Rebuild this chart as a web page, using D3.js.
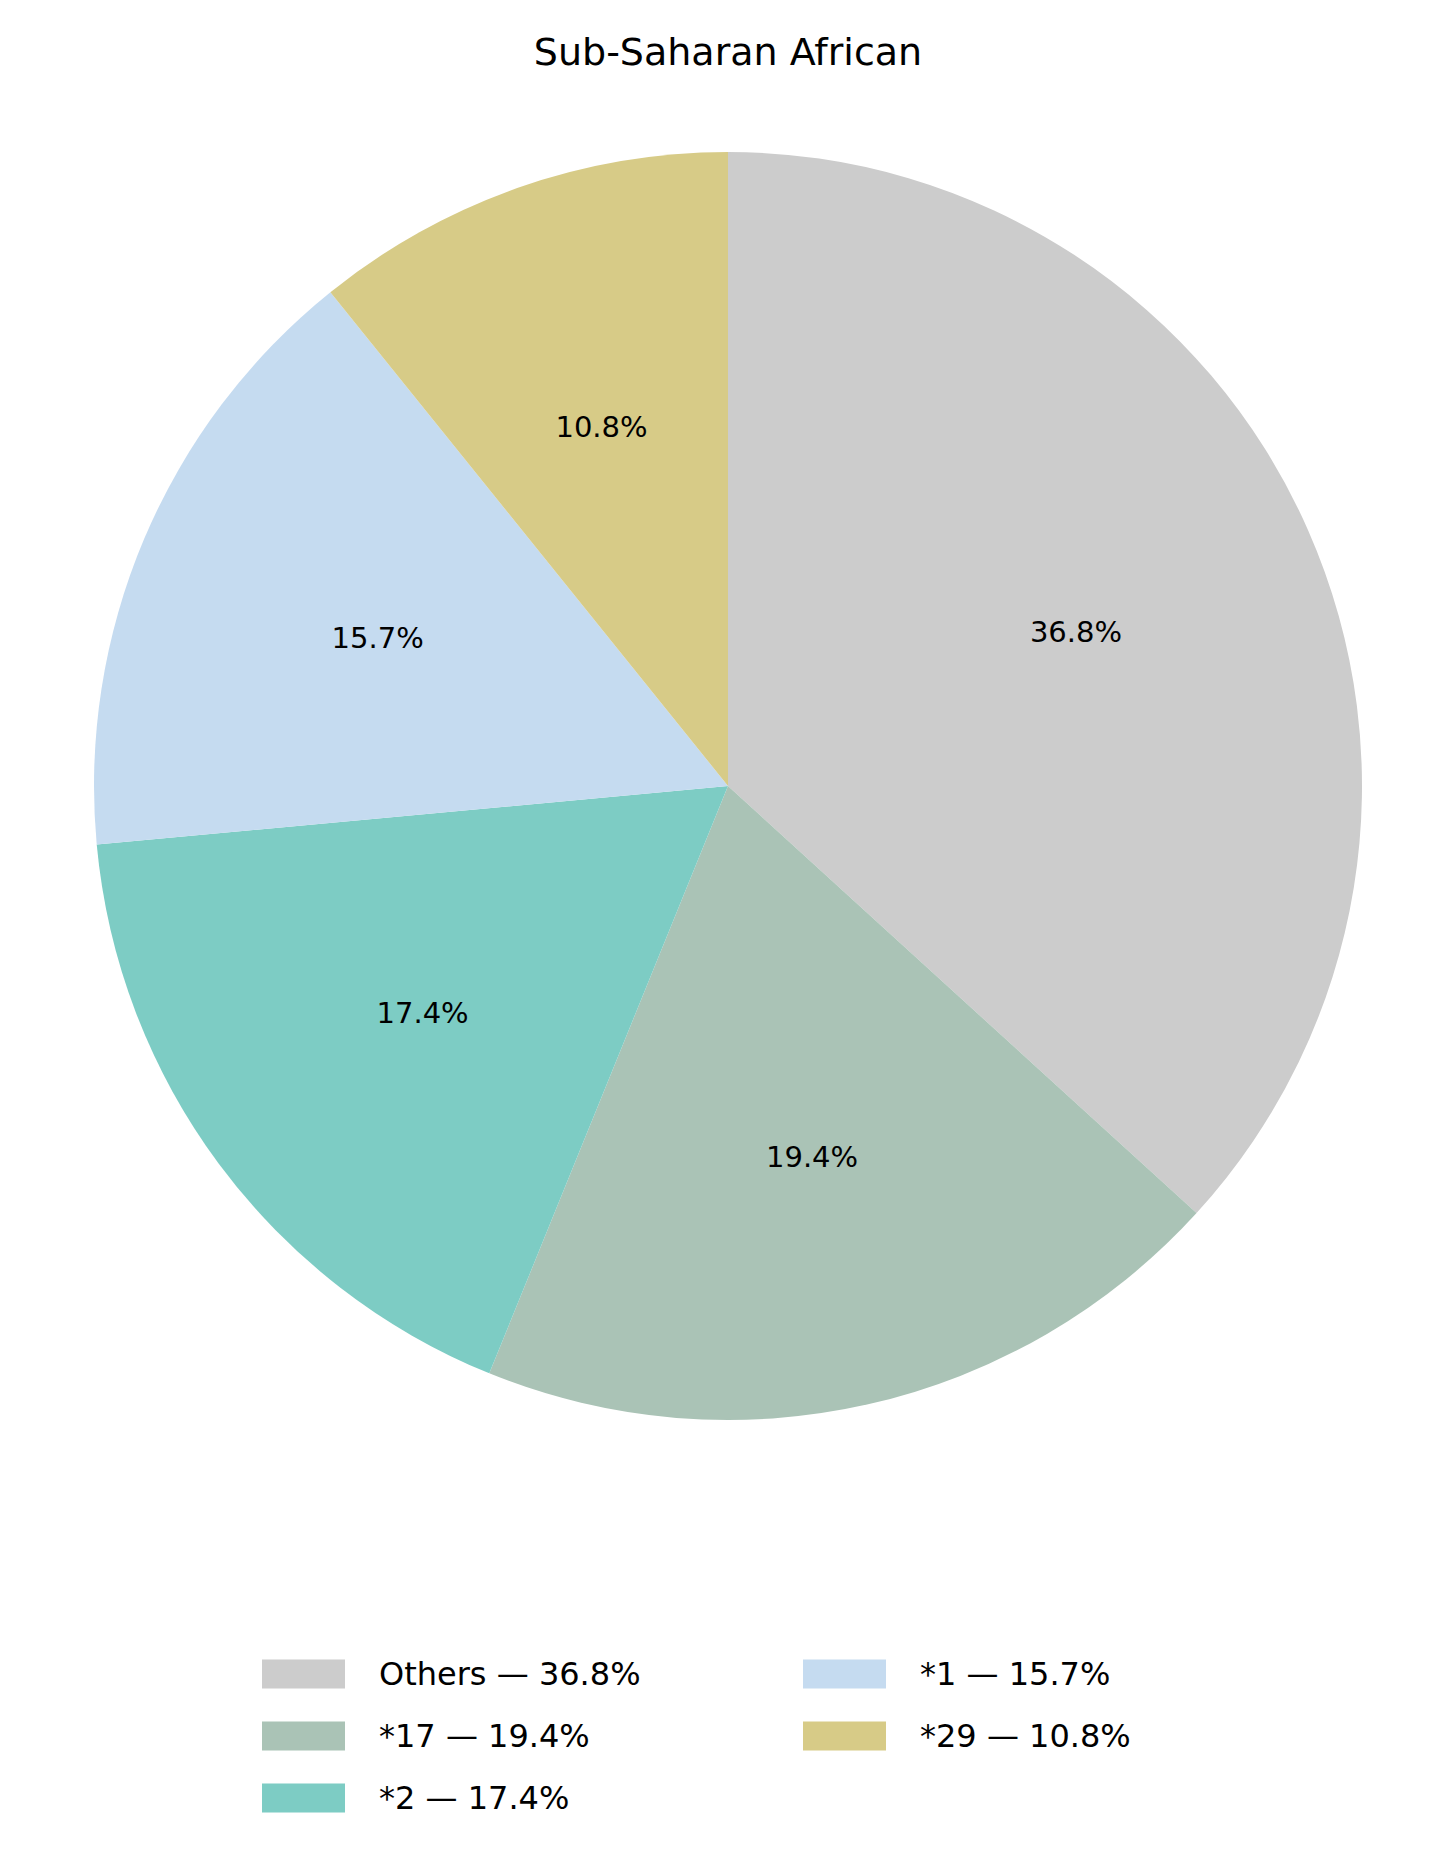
<!DOCTYPE html>
<html><head><meta charset="utf-8">
<script src="https://cdn.jsdelivr.net/npm/d3@7"></script>
<style>body{margin:0;background:#fff}text{font-family:"DejaVu Sans",sans-serif}</style>
</head><body><svg id="chart"></svg>
<script>
const categories = ["Others", "*17", "*2", "*1", "*29"]
const values = [36.8, 19.4, 17.4, 15.7, 10.8]
const colors = ["#cccccc", "#aac3b6", "#7dccc4", "#c5dbf0", "#d7cb87"]

const W = 1455, H = 1869
const cx = 728, cy = 786, R = 634

const svg = d3.select("#chart").attr("width", W).attr("height", H)

svg.append("text")
    .attr("x", cx).attr("y", 65)
    .attr("text-anchor", "middle")
    .style("font-size", "38px")
    .text("Sub-Saharan African")

const data = categories.map((c, i) => ({ name: c, value: values[i], color: colors[i] }))
const pie = d3.pie().sort(null).value(d => d.value)
const arc = d3.arc().innerRadius(0).outerRadius(R)
const labelArc = d3.arc().innerRadius(R * 0.6).outerRadius(R * 0.6)

const g = svg.append("g").attr("transform", `translate(${cx},${cy})`)
const arcs = pie(data)

g.selectAll("path").data(arcs).enter().append("path")
    .attr("d", arc)
    .attr("fill", d => d.data.color)

g.selectAll("text.pct").data(arcs).enter().append("text")
    .attr("class", "pct")
    .attr("transform", d => `translate(${labelArc.centroid(d)})`)
    .attr("text-anchor", "middle")
    .attr("dominant-baseline", "central")
    .style("font-size", "29px")
    .text(d => d.data.value.toFixed(1) + "%")

const legend = svg.selectAll("g.leg").data(data).enter().append("g")
    .attr("class", "leg")
    .attr("transform", (d, i) => {
        const col = Math.floor(i / 3), row = i % 3
        return `translate(${262 + col * 541},${1674 + row * 62})`
    })
legend.append("rect")
    .attr("x", 0).attr("y", -14.5).attr("width", 83).attr("height", 29)
    .attr("fill", d => d.color)
legend.append("text")
    .attr("x", 117).attr("y", 0)
    .attr("dominant-baseline", "central")
    .style("font-size", "32px")
    .text(d => `${d.name} — ${d.value.toFixed(1)}%`)
</script></body></html>
